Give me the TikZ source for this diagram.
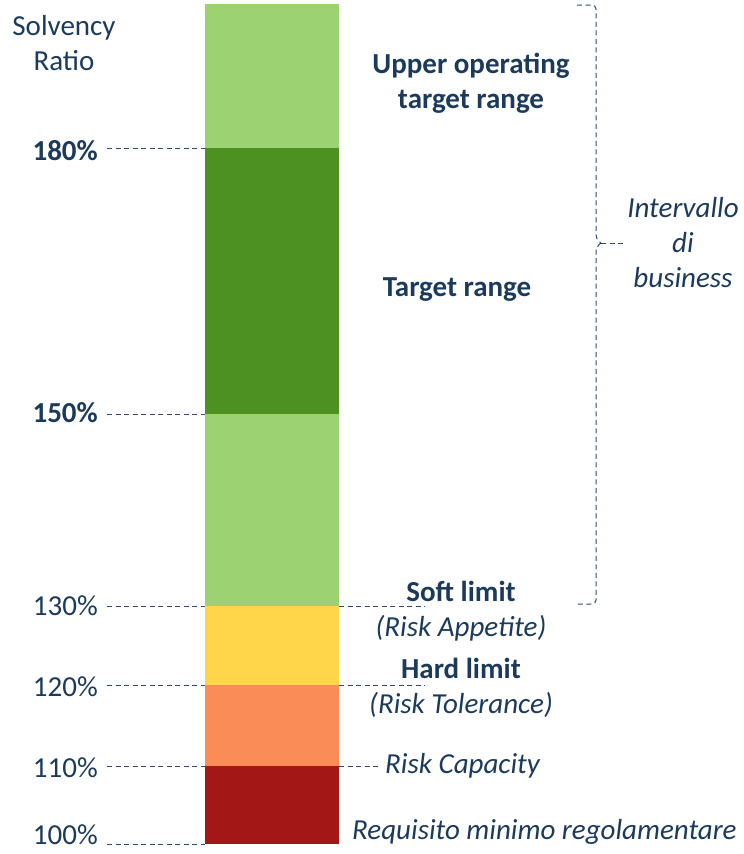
\documentclass[tikz,border=0pt]{standalone}
\usepackage{fontspec}
\setmainfont{Carlito}
\definecolor{navy}{HTML}{1B3A5C}
\definecolor{dashc}{HTML}{2E4A68}
\definecolor{lgreen}{HTML}{9DD273}
\definecolor{dgreen}{HTML}{4E9123}
\definecolor{yel}{HTML}{FFD64A}
\definecolor{ora}{HTML}{FA8C58}
\definecolor{dred}{HTML}{A31717}
\tikzset{
  seg/.style={rectangle, inner sep=0pt, outer sep=0pt, minimum width=134pt, anchor=north west},
  dashline/.style={draw=dashc, line width=1pt, dash pattern=on 5pt off 3.5pt},
  lbl/.style={inner sep=0pt, anchor=east, text=navy},
  txt/.style={inner sep=0pt, text=navy, align=center},
}
\begin{document}
\begin{tikzpicture}[x=1pt,y=-1pt,font=\fontsize{29}{35}\selectfont]
\useasboundingbox (0,0) rectangle (744,854);
% bar segments
\node[seg, fill=lgreen, minimum height=144pt] (upper) at (205,4) {};
\node[seg, fill=dgreen, minimum height=266pt] (target) at (205,148) {};
\node[seg, fill=lgreen, minimum height=192pt] (lower) at (205,414) {};
\node[seg, fill=yel, minimum height=79pt] (soft) at (205,606) {};
\node[seg, fill=ora, minimum height=81pt] (hard) at (205,685) {};
\node[seg, fill=dred, minimum height=78pt] (cap) at (205,766) {};
% axis title
\node[txt] (title) at (64,43) {Solvency\\Ratio};
% left labels
\node[lbl, font=\fontsize{29}{35}\selectfont\bfseries] (l180) at (98,151) {180\%};
\node[lbl, font=\fontsize{29}{35}\selectfont\bfseries] (l150) at (98,413) {150\%};
\node[lbl] (l130) at (98,606) {130\%};
\node[lbl] (l120) at (98,687) {120\%};
\node[lbl] (l110) at (98,768) {110\%};
\node[lbl] (l100) at (98,835) {100\%};
% left dashed lines
\draw[dashline] ([xshift=9pt]l180.east |- target.north) -- (target.north west);
\draw[dashline] ([xshift=9pt]l150.east |- lower.north) -- (lower.north west);
\draw[dashline] ([xshift=9pt]l130.east |- soft.north) -- (soft.north west);
\draw[dashline] ([xshift=9pt]l120.east |- hard.north) -- (hard.north west);
\draw[dashline] ([xshift=9pt]l110.east |- cap.north) -- (cap.north west);
\draw[dashline] ([xshift=9pt]l100.east |- cap.south) -- (cap.south west);
% right texts
\node[txt, font=\fontsize{29}{35}\selectfont\bfseries] (tupper) at (471,83) {Upper operating\\target range};
\node[txt, font=\fontsize{29}{35}\selectfont\bfseries] (ttarget) at (457,290) {Target range};
\node[txt, font=\fontsize{29}{35}\selectfont\bfseries] (tsoft) at (461,591) {Soft limit};
\node[txt, font=\fontsize{29}{35}\selectfont\itshape] (tsoft2) at (461,628) {(Risk Appetite)};
\node[txt, font=\fontsize{29}{35}\selectfont\bfseries] (thard) at (461,668) {Hard limit};
\node[txt, font=\fontsize{29}{35}\selectfont\itshape] (thard2) at (461,705) {(Risk Tolerance)};
\node[txt, anchor=west, font=\fontsize{29}{35}\selectfont\itshape] (tcap) at (385,766) {Risk Capacity};
\node[txt, anchor=west, font=\fontsize{29}{35}\selectfont\itshape] (treq) at (352,832) {Requisito minimo regolamentare};
% right dashed lines
\coordinate (esoft) at (425,606);
\coordinate (ehard) at (425,685);
\draw[dashline] (soft.north east) -- (esoft);
\draw[dashline] (hard.north east) -- (ehard);
\draw[dashline] (cap.north east) -- ([xshift=-4pt]tcap.west);
% brace
\coordinate (btop) at (577,5);
\coordinate (bbot) at (577,604);
\coordinate (bmid) at (601,243);
\draw[dashline, rounded corners=4pt] (btop) -- (596,5) -- (596,239) -- (bmid);
\draw[dashline, rounded corners=4pt] (bmid) -- (596,247) -- (596,604) -- (bbot);
\node[txt, font=\fontsize{29}{35}\selectfont\itshape] (tbiz) at (683,243) {Intervallo\\di\\business};
\draw[dashline] (bmid) -- ([xshift=-4pt]tbiz.west |- bmid);
\end{tikzpicture}
\end{document}
